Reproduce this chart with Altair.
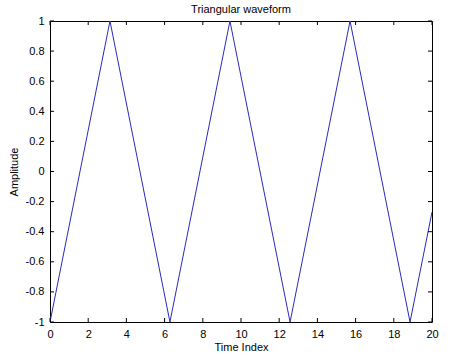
import altair as alt
import pandas as pd

# Waveform vertices
time_index = [0.0, 3.14, 6.28, 9.42, 12.57, 15.71, 18.85, 20.0]
amplitude = [-1.0, 1.0, -1.0, 1.0, -1.0, 1.0, -1.0, -0.27]

# Tick values
x_ticks = [0, 2, 4, 6, 8, 10, 12, 14, 16, 18, 20]
y_ticks = [-1, -0.8, -0.6, -0.4, -0.2, 0, 0.2, 0.4, 0.6, 0.8, 1]

W, H = 382, 301
FONT = "Liberation Sans"

df = pd.DataFrame({"x": time_index, "y": amplitude})
dfx = pd.DataFrame({"x": x_ticks})
dfy = pd.DataFrame({"y": y_ticks})

xscale = alt.Scale(domain=[0, 20], nice=False, zero=False)
yscale = alt.Scale(domain=[-1, 1], nice=False, zero=False)

label_expr = "replace(datum.label, '\u2212', '-')"

xaxis = alt.Axis(values=x_ticks, title="Time Index", ticks=False, domain=False, grid=False,
                 labelPadding=6, titlePadding=2, labelExpr=label_expr, format="~g",
                 labelFlush=False, labelOverlap=False)
yaxis = alt.Axis(values=y_ticks, title="Amplitude", ticks=False, domain=False, grid=False,
                 labelPadding=6, titlePadding=6, labelExpr=label_expr, format="~g",
                 labelFlush=False, labelOverlap=False)

line = alt.Chart(df).mark_line(color="#2a2ab8", strokeWidth=1, clip=True).encode(
    x=alt.X("x:Q", scale=xscale, axis=xaxis),
    y=alt.Y("y:Q", scale=yscale, axis=yaxis),
)

bx = alt.Chart(dfx)
by = alt.Chart(dfy)
tick_color = "#000000"
bottom_ticks = bx.mark_rule(color=tick_color, strokeWidth=1).encode(
    x=alt.X("x:Q", scale=xscale, axis=xaxis), y=alt.value(H), y2=alt.value(H - 4))
top_ticks = bx.mark_rule(color=tick_color, strokeWidth=1).encode(
    x=alt.X("x:Q", scale=xscale, axis=xaxis), y=alt.value(0), y2=alt.value(4))
left_ticks = by.mark_rule(color=tick_color, strokeWidth=1).encode(
    y=alt.Y("y:Q", scale=yscale, axis=yaxis), x=alt.value(0), x2=alt.value(4))
right_ticks = by.mark_rule(color=tick_color, strokeWidth=1).encode(
    y=alt.Y("y:Q", scale=yscale, axis=yaxis), x=alt.value(W), x2=alt.value(W - 4))

chart = alt.layer(line, bottom_ticks, top_ticks, left_ticks, right_ticks).properties(
    width=W, height=H,
    title=alt.TitleParams("Triangular waveform", fontSize=11, font=FONT,
                          fontWeight="normal", color="#000", offset=0),
    autosize=alt.AutoSizeParams(type="none"),
    padding={"left": 50, "top": 21, "right": 18, "bottom": 33},
    background="white",
).configure_view(stroke="#000", strokeWidth=1).configure_axis(
    labelFont=FONT, labelFontSize=11, labelColor="#000",
    titleFont=FONT, titleFontSize=11, titleColor="#000", titleFontWeight="normal",
)

chart.save("out.html", embed_options={"renderer": "svg", "actions": False})
